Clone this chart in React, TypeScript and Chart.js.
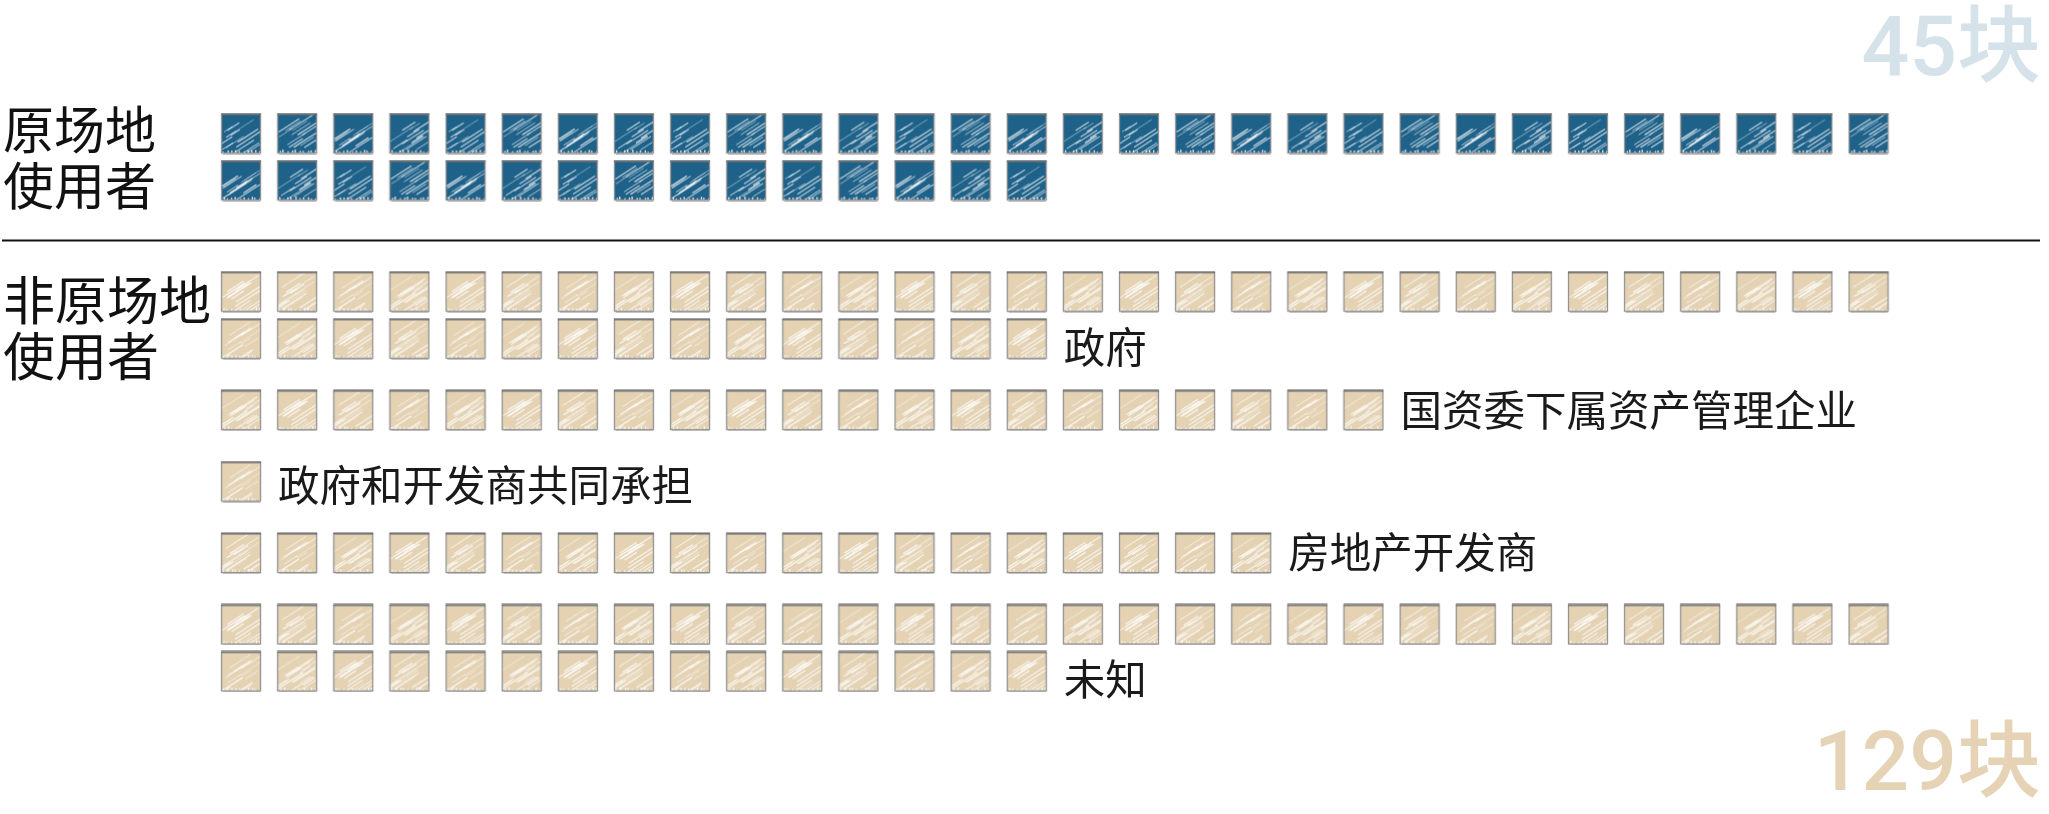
import React, { useEffect, useRef } from 'react';
import { Chart, registerables } from 'chart.js';

Chart.register(...registerables);

// ---- data ----
const groupNames = ['原场地使用者', '非原场地使用者'];
const groupLabelLines = [['原场地', '使用者'], ['非原场地', '使用者']];
const groupTotals = [45, 129];
const categories = ['原场地使用者', '政府', '国资委下属资产管理企业', '政府和开发商共同承担', '房地产开发商', '未知'];
const categoryCounts = [45, 45, 21, 1, 19, 45];
const categoryGroup = [0, 1, 1, 1, 1, 1];
const totalUnit = '块';

// ---- layout / style ----
const PER_ROW = 30;
const CATEGORY_GAP = 1.52;
const GROUP_GAP = 2.366;
const SEPARATOR_OFFSET = 1.277;
const labelDy = [0, 9, 0, 4, -1, 8];
const groupFill = ['#1e6189', '#e4d2b3'];
const groupTotalColor = ['#d6e2e9', '#e6d3b5'];
const CJK = '"Noto Sans CJK SC", "Noto Sans", sans-serif';

function hash(n: number) {
  const s = Math.sin(n * 12.9898 + 78.233) * 43758.5453;
  return s - Math.floor(s);
}

function makeTile(fill: string, variant: number, light: boolean) {
  const c = document.createElement('canvas');
  c.width = 42;
  c.height = 42;
  const g = c.getContext('2d')!;
  g.fillStyle = fill;
  g.fillRect(2, 2, 38, 38);
  g.save();
  g.beginPath();
  g.rect(2, 2, 38, 38);
  g.clip();
  g.lineCap = 'round';
  const dx = Math.cos(Math.PI / 5.5);
  const dy = -Math.sin(Math.PI / 5.5);
  const count = light ? 16 : 13;
  for (let k = 0; k < count; k++) {
    const h1 = hash(k * 3.1 + variant * 17.7);
    const h2 = hash(k * 5.3 + variant * 9.1 + 1);
    const h3 = hash(k * 7.9 + variant * 4.3 + 2);
    const sx = 1 + h1 * 28;
    const sy = 16 + h2 * 26;
    const len = 8 + h3 * 22;
    g.strokeStyle = light ? 'rgba(255,255,255,0.75)' : 'rgba(255,255,255,0.7)';
    g.lineWidth = 0.6 + hash(k + variant * 31) * 0.8;
    g.beginPath();
    g.moveTo(sx, sy);
    g.lineTo(sx + dx * len, sy + dy * len);
    g.stroke();
  }
  // ragged bottom edge
  g.fillStyle = 'rgba(255,255,255,0.85)';
  for (let k = 0; k < 10; k++) {
    const x = 2 + k * 4 + hash(k + variant * 7) * 2;
    const h = 0.5 + hash(k * 2.7 + variant) * 2.5;
    g.fillRect(x, 40 - h, 1.4, h);
  }
  g.restore();
  // border
  g.strokeStyle = '#939393';
  g.lineWidth = 1.3;
  g.strokeRect(1.5, 1.5, 39, 39);
  g.strokeStyle = '#727272';
  g.lineWidth = 2;
  g.beginPath();
  g.moveTo(1, 1.5);
  g.lineTo(41, 1.5);
  g.stroke();
  g.strokeStyle = 'rgba(120,120,120,0.45)';
  g.lineWidth = 1;
  g.beginPath();
  g.moveTo(3, 41.3);
  g.lineTo(40, 41.3);
  g.stroke();
  return c;
}

export default function App() {
  const ref = useRef<HTMLCanvasElement>(null);

  useEffect(() => {
    document.body.style.margin = '0';
    const tiles = groupFill.map((f, gi) => [0, 1, 2, 3].map((v) => makeTile(f, v + gi * 5, gi === 1)));

    const rowStart: number[] = [];
    let y = 0;
    categories.forEach((_, i) => {
      if (i > 0) {
        const prevRows = Math.ceil(categoryCounts[i - 1] / PER_ROW);
        const prevLast = rowStart[i - 1] + prevRows - 1;
        y = prevLast + (categoryGroup[i] !== categoryGroup[i - 1] ? GROUP_GAP : CATEGORY_GAP);
      }
      rowStart.push(y);
    });

    const datasets = categories.map((name, i) => {
      const data: { x: number; y: number }[] = [];
      for (let j = 0; j < categoryCounts[i]; j++) {
        data.push({ x: j % PER_ROW, y: rowStart[i] + Math.floor(j / PER_ROW) });
      }
      const gi = categoryGroup[i];
      return {
        label: name,
        data,
        pointStyle: (ctx: any) => tiles[gi][(ctx.dataIndex * 7 + i) % 4],
        pointRadius: 20,
        pointHoverRadius: 20,
        clip: false as any,
      };
    });

    const overlay = {
      id: 'overlay',
      afterDatasetsDraw(chart: any) {
        const ctx = chart.ctx;
        const xs = chart.scales.x;
        const ys = chart.scales.y;
        ctx.save();
        const g0Last = categories
          .map((_, i) => i)
          .filter((i) => categoryGroup[i] === 0)
          .reduce((m, i) => Math.max(m, rowStart[i] + Math.ceil(categoryCounts[i] / PER_ROW) - 1), 0);
        const sepY = ys.getPixelForValue(g0Last + SEPARATOR_OFFSET);
        ctx.strokeStyle = '#111';
        ctx.lineWidth = 2;
        ctx.beginPath();
        ctx.moveTo(2, sepY);
        ctx.lineTo(2040, sepY);
        ctx.stroke();

        const labelOffsets = [-3.5, 8.3];
        ctx.fillStyle = '#111';
        ctx.textAlign = 'left';
        ctx.textBaseline = 'middle';
        groupNames.forEach((_, gi) => {
          ctx.font = `${gi === 0 ? 51 : 52}px ${CJK}`;
          const first = categories.findIndex((__, i) => categoryGroup[i] === gi);
          const y0 = ys.getPixelForValue(rowStart[first]) + labelOffsets[gi];
          groupLabelLines[gi].forEach((line, li) => {
            ctx.fillText(line, 3, y0 + li * 56);
          });
        });

        ctx.font = `41.5px ${CJK}`;
        ctx.fillStyle = '#1a1a1a';
        categories.forEach((name, i) => {
          const gi = categoryGroup[i];
          const inGroup = categoryGroup.filter((g) => g === gi).length;
          if (inGroup < 2) return;
          const n = categoryCounts[i];
          const lastCol = (n - 1) % PER_ROW;
          const lastRow = rowStart[i] + Math.floor((n - 1) / PER_ROW);
          ctx.fillText(name, xs.getPixelForValue(lastCol) + 37, ys.getPixelForValue(lastRow) + labelDy[i]);
        });

        ctx.textAlign = 'right';
        ctx.textBaseline = 'alphabetic';
        ctx.font = `500 84px "Roboto", ${CJK}`;
        ctx.fillStyle = groupTotalColor[0];
        ctx.fillText(`${groupTotals[0]}${totalUnit}`, 2041, 75);
        ctx.fillStyle = groupTotalColor[1];
        ctx.fillText(`${groupTotals[1]}${totalUnit}`, 2041, 790);
        ctx.restore();
      },
    };

    const chart = new Chart(ref.current!, {
      type: 'scatter',
      data: { datasets: datasets as any },
      options: {
        responsive: false,
        animation: false,
        events: [],
        layout: { padding: { left: 213, right: 152.4, top: 110, bottom: 69.5 } },
        plugins: { legend: { display: false }, tooltip: { enabled: false } },
        scales: {
          x: { type: 'linear', min: -0.5, max: PER_ROW - 0.5, display: false },
          y: { type: 'linear', min: -0.5, max: 13, reverse: true, display: false },
        },
      },
      plugins: [overlay],
    });
    return () => chart.destroy();
  }, []);

  return (
    <div style={{ position: 'fixed', left: 0, top: 0, width: 2049, height: 814, background: '#fff' }}>
      <canvas ref={ref} width={2049} height={814} style={{ display: 'block', width: 2049, height: 814 }} />
    </div>
  );
}
